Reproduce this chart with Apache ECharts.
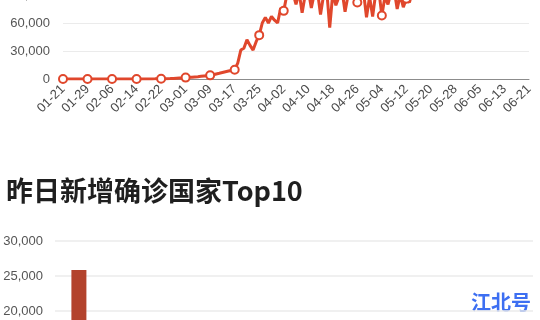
<!DOCTYPE html>
<html>
<head>
<meta charset="utf-8">
<script src="https://cdn.jsdelivr.net/npm/echarts@6/dist/echarts.min.js"></script>
<style>
  html, body { margin: 0; padding: 0; background: #fff; }
  #chart { width: 540px; height: 320px; }
</style>
</head>
<body>
<div id="chart"></div>
<script>
// Daily new confirmed cases outside China, 01-21 onwards
const trendStart = '2020-01-21';
const trendDays = 153; // through 06-21
const trendValues = [
  // 01-21 .. 01-31
  2, 1, 3, 5, 3, 7, 10, 8, 12, 15, 18,
  // 02-01 .. 02-29
  20, 25, 30, 15, 22, 18, 25, 20, 12, 10, 15, 8, 20, 10, 30, 25, 50, 80, 120, 150,
  210, 260, 330, 400, 450, 600, 800, 1000, 1200,
  // 03-01 .. 03-31
  1500, 1800, 1900, 2200, 2500, 2900, 3300, 3600, 3900, 4600, 5400, 6100, 6900, 7700, 8500, 9200,
  10000, 17000, 31000, 33000, 42000, 36000, 31000, 40000, 47000, 60000, 66000, 60000, 67000, 63000, 60000,
  // 04-01 .. 04-30
  76000, 73000, 90000, 86000, 92000, 80000, 93000, 71000, 90000, 95000,
  76000, 92000, 94000, 69000, 90000, 96000, 55000, 92000, 79000, 88000,
  95000, 72000, 90000, 97000, 93000, 82000, 90000, 94000, 66000, 88000,
  // 05-01 .. 05-18
  67000, 92000, 95000, 68000, 88000, 80000, 93000, 96000, 75000, 90000,
  77000, 86000, 82000, 95000, 98000, 93000, 100000, 96000
];
const trendTicks = [0, 30000, 60000, 90000, 120000];

// Yesterday's top 10 countries by new confirmed cases
const topCountries = ['美国', '巴西', '俄罗斯', '印度', '秘鲁', '智利', '英国', '墨西哥', '沙特', '巴基斯坦'];
const topValues = [25850, 16500, 9200, 6000, 4000, 3500, 3000, 2700, 2600, 2000];
const topTicks = [0, 5000, 10000, 15000, 20000, 25000, 30000];

const sectionTitle = '昨日新增确诊国家Top10';
const brandText = '江北号';

// Build the MM-DD day labels for the trend axis
const trendDates = [];
(function () {
  const d = new Date(trendStart + 'T00:00:00Z');
  for (let i = 0; i < trendDays; i++) {
    const mm = String(d.getUTCMonth() + 1).padStart(2, '0');
    const dd = String(d.getUTCDate()).padStart(2, '0');
    trendDates.push(mm + '-' + dd);
    d.setUTCDate(d.getUTCDate() + 1);
  }
})();

const numFont = 'Liberation Sans, Arial, Helvetica, sans-serif';
const fmt = v => v.toLocaleString('en-US');

const chart = echarts.init(document.getElementById('chart'), null, { renderer: 'canvas' });
chart.setOption({
  animation: false,
  backgroundColor: '#fff',
  title: {
    text: sectionTitle,
    left: 1,
    top: 172,
    textStyle: {
      fontFamily: 'Noto Sans CJK SC, sans-serif',
      fontSize: 27,
      fontWeight: 'bold',
      color: '#1f1f1f'
    }
  },
  graphic: [{
    type: 'text',
    left: 471,
    top: 292,
    style: {
      text: brandText,
      fontFamily: 'Noto Sans CJK SC, sans-serif',
      fontSize: 20,
      fontWeight: 'bold',
      fill: '#3d6ff2'
    }
  }],
  grid: [
    { left: 63, right: 11, top: -33, height: 112, containLabel: false, outerBoundsMode: 'none' },
    { left: 55, right: 7, top: 241, height: 210, containLabel: false, outerBoundsMode: 'none' }
  ],
  xAxis: [{
    gridIndex: 0,
    type: 'category',
    data: trendDates,
    boundaryGap: false,
    axisLine: { lineStyle: { color: '#8c8c8c', width: 1 } },
    axisTick: { show: false },
    axisLabel: {
      interval: 7,
      rotate: 45,
      margin: 8,
      color: '#4a4a4a',
      fontSize: 13,
      fontFamily: numFont
    }
  }, {
    gridIndex: 1,
    type: 'category',
    data: topCountries,
    axisLine: { lineStyle: { color: '#9a9a9a' } },
    axisTick: { show: false },
    axisLabel: { color: '#555', fontSize: 12 }
  }],
  yAxis: [{
    gridIndex: 0,
    type: 'value',
    min: trendTicks[0],
    max: trendTicks[trendTicks.length - 1],
    interval: trendTicks[1] - trendTicks[0],
    axisLine: { show: false },
    axisTick: { show: false },
    splitLine: { lineStyle: { color: '#ebebeb', width: 1 } },
    axisLabel: { margin: 13, color: '#555', fontSize: 13, fontFamily: numFont, formatter: fmt }
  }, {
    gridIndex: 1,
    type: 'value',
    min: topTicks[0],
    max: topTicks[topTicks.length - 1],
    interval: topTicks[1] - topTicks[0],
    axisLine: { show: false },
    axisTick: { show: false },
    splitLine: { lineStyle: { color: '#ebebeb', width: 1.5 } },
    axisLabel: { margin: 12, color: '#555', fontSize: 13, fontFamily: numFont, formatter: fmt }
  }],
  series: [{
    type: 'line',
    xAxisIndex: 0,
    yAxisIndex: 0,
    data: trendValues,
    showAllSymbol: 'auto',
    symbol: 'circle',
    symbolSize: 8,
    lineStyle: { color: '#e0472c', width: 3 },
    itemStyle: { color: '#fff', borderColor: '#e0472c', borderWidth: 2 }
  }, {
    type: 'bar',
    xAxisIndex: 1,
    yAxisIndex: 1,
    data: topValues,
    barWidth: 15,
    itemStyle: { color: '#b3432c' }
  }]
});
</script>
</body>
</html>
